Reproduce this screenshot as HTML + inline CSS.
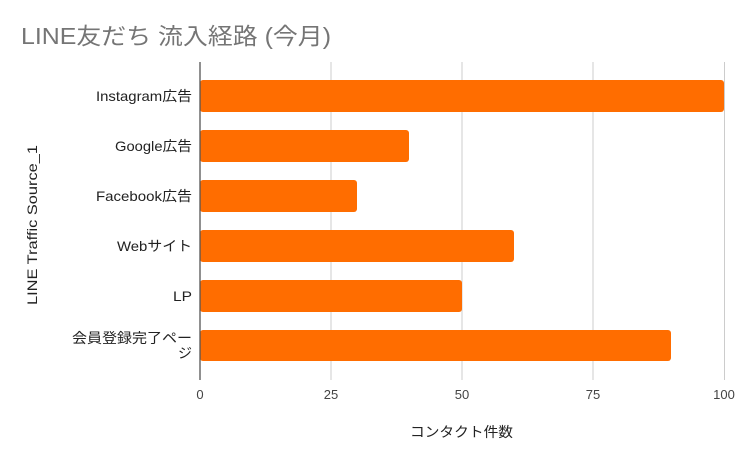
<!DOCTYPE html>
<html><head><meta charset="utf-8"><style>
body{margin:0;background:#fff;}
svg text{font-family:"Liberation Sans","Noto Sans CJK JP",sans-serif;}
</style></head><body>
<svg width="746" height="457" xmlns="http://www.w3.org/2000/svg">
<rect width="746" height="457" fill="#fff"/>
<text x="21" y="44" font-size="23" fill="#757575" textLength="310" lengthAdjust="spacingAndGlyphs">LINE友だち 流入経路 (今月)</text>
<g stroke="#cccccc" stroke-width="1">
<line x1="331" y1="62" x2="331" y2="380"/>
<line x1="462" y1="62" x2="462" y2="380"/>
<line x1="593" y1="62" x2="593" y2="380"/>
<line x1="724.5" y1="62" x2="724.5" y2="380"/>
</g>
<g fill="#ff6d00">
<rect x="200" y="80" width="524" height="32" rx="3"/>
<rect x="200" y="130" width="209" height="32" rx="3"/>
<rect x="200" y="180" width="157" height="32" rx="3"/>
<rect x="200" y="230" width="314" height="32" rx="3"/>
<rect x="200" y="280" width="262" height="32" rx="3"/>
<rect x="200" y="330" width="471" height="31" rx="3"/>
</g>
<line x1="200" y1="62" x2="200" y2="380" stroke="#555" stroke-width="1.3"/>
<g font-size="14" fill="#222" text-anchor="end" lengthAdjust="spacingAndGlyphs">
<text x="192" y="101" textLength="96" lengthAdjust="spacingAndGlyphs">Instagram広告</text>
<text x="192" y="151" textLength="77" lengthAdjust="spacingAndGlyphs">Google広告</text>
<text x="192" y="201" textLength="96" lengthAdjust="spacingAndGlyphs">Facebook広告</text>
<text x="192" y="251" textLength="75" lengthAdjust="spacingAndGlyphs">Webサイト</text>
<text x="192" y="301" textLength="19" lengthAdjust="spacingAndGlyphs">LP</text>
<text x="192" y="343" textLength="120" lengthAdjust="spacingAndGlyphs">会員登録完了ペー</text>
<text x="192" y="358">ジ</text>
</g>
<g font-size="13" fill="#444" text-anchor="middle">
<text x="200" y="399">0</text>
<text x="331" y="399">25</text>
<text x="462" y="399">50</text>
<text x="593" y="399">75</text>
<text x="724" y="399">100</text>
</g>
<text x="410" y="437" font-size="14" fill="#222" textLength="103" lengthAdjust="spacingAndGlyphs">コンタクト件数</text>
<text transform="translate(37,305) rotate(-90)" font-size="14" fill="#222" textLength="160" lengthAdjust="spacingAndGlyphs">LINE Traffic Source_1</text>
</svg>
</body></html>
